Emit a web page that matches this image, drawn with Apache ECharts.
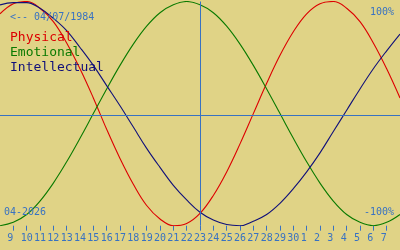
<!DOCTYPE html>
<html>
<head>
<meta charset="utf-8">
<script src="https://cdn.jsdelivr.net/npm/echarts@6/dist/echarts.min.js"></script>
<style>
html,body{margin:0;padding:0;background:#e0d386;}
#chart{width:400px;height:250px;}
</style>
</head>
<body>
<div id="chart"></div>
<script>
// Days shown (April 8 .. May 8, 2026; first and last are padding off-edge)
const days = ['8','9','10','11','12','13','14','15','16','17','18','19','20','21','22','23','24','25','26','27','28','29','30','1','2','3','4','5','6','7','8'];
const today = '23';
const physical = [89,98,100,94,82,63,40,14,-14,-40,-63,-82,-94,-100,-98,-89,-73,-52,-27,0,27,52,73,89,98,100,94,82,63,40,14];
const emotional = [-100,-97,-90,-78,-62,-43,-22,0,22,43,62,78,90,97,100,97,90,78,62,43,22,0,-22,-43,-62,-78,-90,-97,-100,-97,-90];
const intellectual = [97,99,99,94,85,74,59,43,25,7,-12,-31,-48,-64,-77,-88,-95,-99,-100,-96,-90,-80,-67,-52,-35,-16,3,22,40,56,71];
const seriesNames = ['Physical','Emotional','Intellectual'];
const birthLabel = '<-- 04/07/1984';
const monthLabel = '04-2026';
const yLabels = ['100%','-100%'];

const BLUE = '#3872c2';
const colors = ['#dd0000','#0a7a00','#10107a'];
const mono = '"DejaVu Sans Mono", monospace';
const lastIdx = days.length - 1;
const inner = (i) => i > 0 && i < lastIdx;

const chart = echarts.init(document.getElementById('chart'), null, {renderer:'canvas'});
const data = [physical, emotional, intellectual];
chart.setOption({
  backgroundColor: '#e0d386',
  animation: false,
  grid: {left: 0, right: 0, top: 1.5, bottom: 24.3},
  xAxis: {
    type: 'category', data: days, boundaryGap: false,
    axisLine: {show: false, onZero: false},
    axisTick: {show: true, length: 5, interval: inner, lineStyle: {color: BLUE, width: 1}},
    axisLabel: {
      interval: inner, color: BLUE, fontFamily: '"DejaVu Sans Mono", monospace', fontSize: 10, margin: 8,
      formatter: (v) => v.length === 1 ? v + ' ' : v
    },
    splitLine: {show: false}
  },
  yAxis: {
    type: 'value', min: -100, max: 100, show: false
  },
  series: data.map((d, i) => ({
    type: 'line', name: seriesNames[i], data: d, smooth: 0.4, symbol: 'none',
    lineStyle: {color: colors[i], width: 1.1}, z: 3,
    markLine: i === 0 ? {
      silent: true, symbol: 'none', label: {show: false},
      lineStyle: {color: BLUE, width: 1, type: 'solid'},
      data: [{xAxis: today}, {yAxis: -1.7}]
    } : undefined
  })),
  graphic: [
    {type: 'text', z: 10, style: {text: birthLabel, x: 10, y: 17, fill: BLUE, font: '10px ' + mono, textAlign: 'left', textVerticalAlign: 'middle'}},
    {type: 'text', z: 10, style: {text: yLabels[0], x: 394, y: 12.5, fill: BLUE, font: '10px ' + mono, textAlign: 'right', textVerticalAlign: 'middle'}},
    {type: 'text', z: 10, style: {text: yLabels[1], x: 394, y: 212.5, fill: BLUE, font: '10px ' + mono, textAlign: 'right', textVerticalAlign: 'middle'}},
    {type: 'text', z: 10, style: {text: monthLabel, x: 4, y: 212.3, fill: BLUE, font: '10px ' + mono, textAlign: 'left', textVerticalAlign: 'middle'}},
    {type: 'text', z: 10, style: {text: seriesNames[0], x: 10, y: 38, fill: colors[0], font: '13px ' + mono, textAlign: 'left', textVerticalAlign: 'middle'}},
    {type: 'text', z: 10, style: {text: seriesNames[1], x: 10, y: 53, fill: colors[1], font: '13px ' + mono, textAlign: 'left', textVerticalAlign: 'middle'}},
    {type: 'text', z: 10, style: {text: seriesNames[2], x: 10, y: 68, fill: colors[2], font: '13px ' + mono, textAlign: 'left', textVerticalAlign: 'middle'}}
  ]
});
</script>
</body>
</html>
